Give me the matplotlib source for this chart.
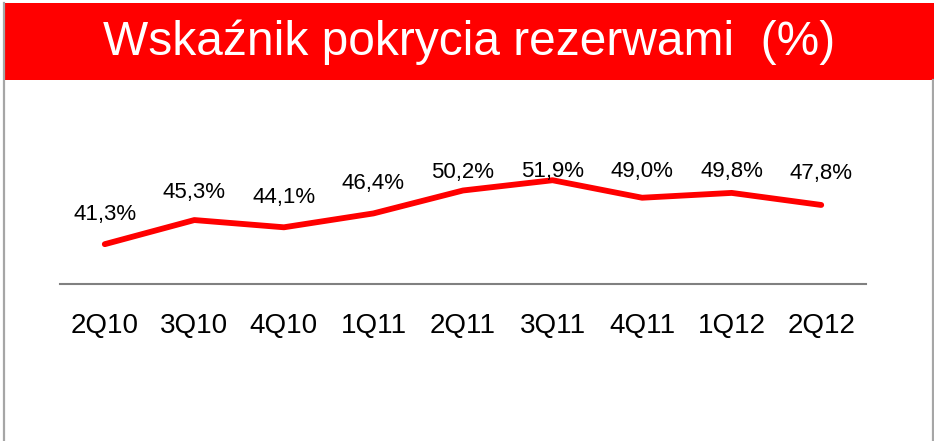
import matplotlib.pyplot as plt
from matplotlib.patches import Rectangle
from matplotlib.lines import Line2D

plt.rcParams['font.family'] = ['Liberation Sans', 'DejaVu Sans']

# data
quarters = ["2Q10", "3Q10", "4Q10", "1Q11", "2Q11", "3Q11", "4Q11", "1Q12", "2Q12"]
coverage = [41.3, 45.3, 44.1, 46.4, 50.2, 51.9, 49.0, 49.8, 47.8]
# vertical offset of each value label above its point (pixels)
label_dy = [30, 28, 30, 30, 18, 9, 26, 21, 31]

W, H = 934, 441
fig = plt.figure(figsize=(W / 100, H / 100), dpi=100)
fig.patch.set_facecolor("white")

# red title banner and grey frame
fig.patches.append(Rectangle((5 / W, 1 - 80 / H), 1 - 5 / W, 77 / H,
                             transform=fig.transFigure, facecolor="#ff0000",
                             edgecolor="none"))
fig.lines.append(Line2D([4 / W, 4 / W], [0, 1 - 3 / H], transform=fig.transFigure,
                        color="#a6a6a6", lw=1.6))
fig.lines.append(Line2D([932.5 / W, 932.5 / W], [0, 1 - 80 / H], transform=fig.transFigure,
                        color="#a6a6a6", lw=1.6))
fig.text(469 / W, 1 - 55 / H, "Wskaźnik pokrycia rezerwami  (%)", color="white",
         fontsize=34.5, ha="center", va="baseline")

# plot area: bottom at y=284 px, top at y=100 px
ax = fig.add_axes([60 / W, 1 - 284 / H, 806 / W, 184 / H])
x = range(len(quarters))
ax.plot(x, coverage, color="#ff0000", lw=4.2, solid_capstyle="round",
        solid_joinstyle="round")
ax.set_xlim(-0.5, 8.5)
ax.set_ylim(34.7, 65.2)

for xi, v, dy in zip(x, coverage, label_dy):
    ax.annotate(f"{v:.1f}%".replace(".", ","), (xi, v), xytext=(0, dy),
                textcoords="offset pixels", ha="center", va="center",
                fontsize=16, color="black")

for s in ["top", "right", "left"]:
    ax.spines[s].set_visible(False)
ax.spines["bottom"].set_color("#808080")
ax.spines["bottom"].set_linewidth(1.5)
ax.set_yticks([])
ax.set_xticks(list(x))
ax.set_xticklabels(quarters, fontsize=20)
ax.tick_params(axis="x", length=0, pad=21)
ax.patch.set_alpha(0)

fig.savefig("out.png", dpi=100)
